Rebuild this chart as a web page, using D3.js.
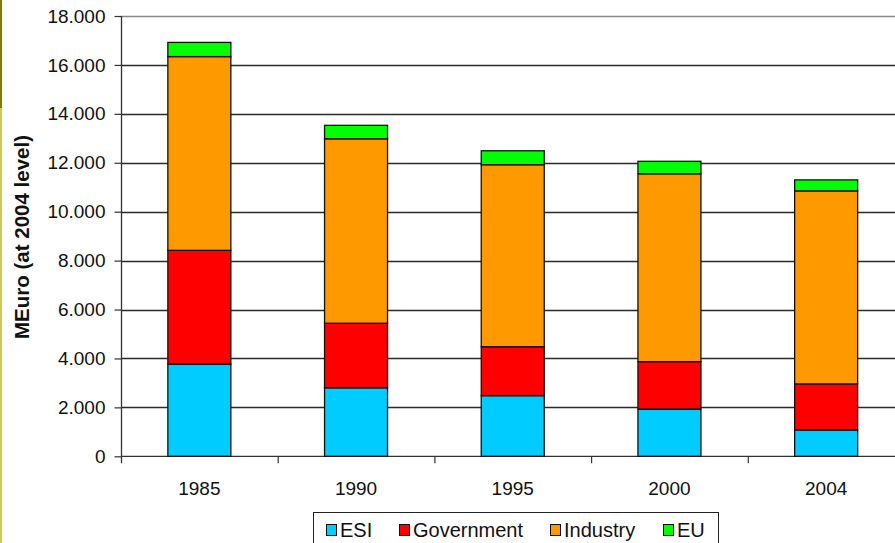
<!DOCTYPE html>
<html>
<head>
<meta charset="utf-8">
<script src="https://cdn.jsdelivr.net/npm/d3@7/dist/d3.min.js"></script>
<style>
  html, body { margin: 0; padding: 0; background: #ffffff; }
  svg { display: block; font-family: "Liberation Sans", Arial, sans-serif; }
</style>
</head>
<body>
<svg id="chart" width="895" height="543"></svg>
<script>
// Funding sources per year, MEuro at 2004 level
const years = ["1985", "1990", "1995", "2000", "2004"];
const seriesNames = ["ESI", "Government", "Industry", "EU"];
const esi        = [3770, 2800, 2480, 1930, 1075];
const government = [4650, 2640, 2000, 1940, 1885];
const industry   = [7920, 7540, 7440, 7680, 7890];
const eu         = [580, 550, 570, 510, 450];
const yTicks = [0, 2000, 4000, 6000, 8000, 10000, 12000, 14000, 16000, 18000];
const colors = ["#00ccff", "#ff0000", "#ff9900", "#00ff00"];

const rows = years.map((y, i) => ({
  year: y, ESI: esi[i], Government: government[i], Industry: industry[i], EU: eu[i]
}));
const stacked = d3.stack().keys(seriesNames)(rows);

const svg = d3.select("#chart");

// slide edge strip on the left
svg.append("rect").attr("x", 0).attr("y", 0).attr("width", 2).attr("height", 108).attr("fill", "#7d7d00");
svg.append("rect").attr("x", 0).attr("y", 108).attr("width", 2).attr("height", 435).attr("fill", "#cccc55");

const plotLeft = 121, plotRight = 904.5, plotTop = 16, plotBottom = 456.3;
const x = d3.scaleBand().domain(years).range([plotLeft, plotRight]).paddingInner(0).paddingOuter(0);
const y = d3.scaleLinear().domain([0, 18000]).range([plotBottom, plotTop]);
const barW = 63;
const fontSize = 19;

// horizontal gridlines
svg.append("g").selectAll("line").data(yTicks.filter(t => t > 0)).join("line")
  .attr("x1", plotLeft).attr("x2", 895)
  .attr("y1", d => Math.round(y(d)) + 0.5).attr("y2", d => Math.round(y(d)) + 0.5)
  .attr("stroke", (d) => d === 18000 ? "#8a8a8a" : "#2a2a2a").attr("stroke-width", 1.3);

// y axis
const yAxis = d3.axisLeft(y).tickValues(yTicks).tickSize(7).tickPadding(9)
  .tickFormat(d => d === 0 ? "0" : d3.format(",")(d).replace(/,/g, "."));
const gy = svg.append("g").attr("transform", `translate(${plotLeft + 0.5},0)`).call(yAxis);
gy.select(".domain").remove();
gy.selectAll(".tick line").attr("stroke", "#333").attr("stroke-width", 1.2);
gy.selectAll(".tick text").attr("font-size", fontSize).attr("fill", "#111")
  .attr("font-family", "Liberation Sans, Arial, sans-serif");
svg.append("line").attr("x1", plotLeft + 0.5).attr("x2", plotLeft + 0.5)
  .attr("y1", plotTop).attr("y2", plotBottom + 7).attr("stroke", "#333").attr("stroke-width", 1.3);

// x axis baseline and category boundary ticks
svg.append("line").attr("x1", plotLeft).attr("x2", 895)
  .attr("y1", plotBottom).attr("y2", plotBottom).attr("stroke", "#333").attr("stroke-width", 1.3);
svg.append("g").selectAll("line").data(years.slice(1)).join("line")
  .attr("x1", d => x(d) + 0.5).attr("x2", d => x(d) + 0.5)
  .attr("y1", plotBottom).attr("y2", plotBottom + 7).attr("stroke", "#333").attr("stroke-width", 1.2);
svg.append("g").selectAll("text").data(years).join("text")
  .attr("x", d => x(d) + x.bandwidth() / 2).attr("y", 495)
  .attr("text-anchor", "middle").attr("font-size", fontSize).attr("fill", "#111")
  .text(d => d);

// stacked bars
svg.append("g").selectAll("g").data(stacked).join("g")
  .attr("fill", (d, i) => colors[i])
  .selectAll("rect").data(d => d).join("rect")
  .attr("x", d => x(d.data.year) + x.bandwidth() / 2 - barW / 2)
  .attr("width", barW)
  .attr("y", d => y(d[1]))
  .attr("height", d => y(d[0]) - y(d[1]))
  .attr("stroke", "#111").attr("stroke-width", 1.3);

// y axis title
svg.append("text")
  .attr("transform", "translate(29,237) rotate(-90)")
  .attr("text-anchor", "middle").attr("font-size", 20.5).attr("font-weight", "bold").attr("fill", "#111")
  .text("MEuro (at 2004 level)");

// legend
const lg = svg.append("g");
lg.append("rect").attr("x", 313.5).attr("y", 512.5).attr("width", 405).attr("height", 32)
  .attr("fill", "#fff").attr("stroke", "#222").attr("stroke-width", 1);
const legendX = [326, 399, 550, 663];
seriesNames.forEach((name, i) => {
  lg.append("rect").attr("x", legendX[i] + 0.5).attr("y", 524.5).attr("width", 10).attr("height", 11)
    .attr("fill", colors[i]).attr("stroke", "#111").attr("stroke-width", 1);
  lg.append("text").attr("x", legendX[i] + 14).attr("y", 536.5)
    .attr("font-size", 20).attr("fill", "#111").text(name);
});
</script>
</body>
</html>
